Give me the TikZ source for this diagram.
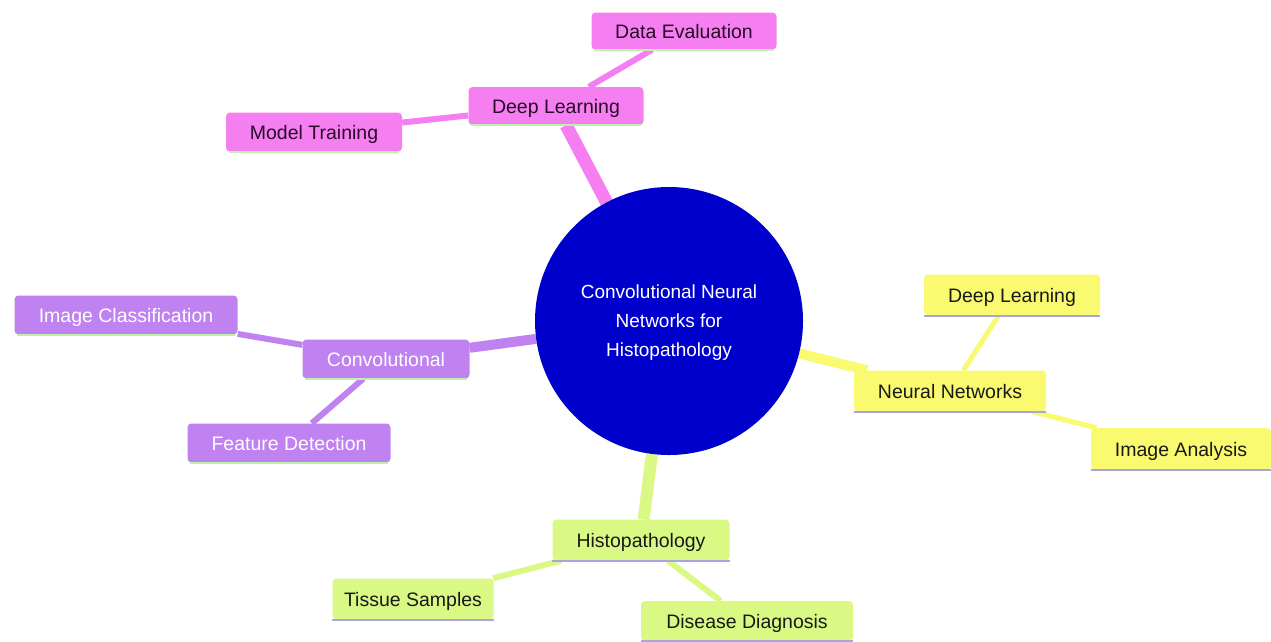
\documentclass[tikz,border=0pt]{standalone}
\usepackage{fontspec}
\setmainfont{Liberation Sans}
\pgfdeclarelayer{background}
\pgfdeclarelayer{paper}
\pgfsetlayers{paper,background,main}
\definecolor{pinkc}{RGB}{245,127,240}
\definecolor{purpc}{RGB}{191,130,240}
\definecolor{yelc}{RGB}{250,250,112}
\definecolor{grnc}{RGB}{218,249,132}
\definecolor{rootc}{RGB}{0,0,204}
\definecolor{ulgreen}{RGB}{190,240,170}
\definecolor{ullav}{RGB}{170,165,225}
\definecolor{pinktxt}{RGB}{40,10,40}
\tikzset{
  x=1pt, y=-1pt,
  box/.style={rectangle, rounded corners=4pt, inner sep=0pt, text height=16pt, text depth=2pt, font=\fontsize{19.5}{23}\selectfont},
  pinkbox/.style={box, fill=pinkc, text=pinktxt},
  purpbox/.style={box, fill=purpc, text=white},
  yelbox/.style={box, fill=yelc, text=black!90},
  grnbox/.style={box, fill=grnc, text=black!90},
  rootnode/.style={circle, fill=rootc, minimum size=268pt, inner sep=0pt},
  roottext/.style={text=white, align=center, inner sep=0pt, font=\fontsize{19}{29}\selectfont},
  mainedge/.style={line width=#1, line cap=butt},
  ul/.style={draw=#1, line width=2.2pt},
}
\begin{document}
\begin{tikzpicture}
\begin{pgfonlayer}{paper}
\fill[white] (0,0) rectangle (1271,641);
\end{pgfonlayer}
\useasboundingbox (0,0) rectangle (1271,641);
\node[rootnode, label={[roottext, yshift=-2pt]center:{Convolutional Neural\\Networks for\\Histopathology}}] (root) at (669,321) {};
% pink branch
\node[pinkbox, minimum width=175, minimum height=38] (dl) at (556,106) {Deep Learning};
\node[pinkbox, minimum width=185, minimum height=37] (de) at (684,31) {Data Evaluation};
\node[pinkbox, minimum width=176, minimum height=39] (mt) at (314,132) {Model Training};
% purple branch
\node[purpbox, minimum width=167, minimum height=39] (cv) at (386,359) {Convolutional};
\node[purpbox, minimum width=223, minimum height=39] (ic) at (126,315) {Image Classification};
\node[purpbox, minimum width=203, minimum height=39] (fd) at (289,443) {Feature Detection};
% yellow branch
\node[yelbox, minimum width=192, minimum height=41] (nn) at (950,391) {Neural Networks};
\node[yelbox, minimum width=176, minimum height=41] (dl2) at (1012,295) {Deep Learning};
\node[yelbox, minimum width=180, minimum height=42] (ia) at (1181,449) {Image Analysis};
% green branch
\node[grnbox, minimum width=177, minimum height=41] (hp) at (641,540) {Histopathology};
\node[grnbox, minimum width=161, minimum height=41] (ts) at (413,599) {Tissue Samples};
\node[grnbox, minimum width=212, minimum height=40] (dd) at (747,621) {Disease Diagnosis};
% underlines
\foreach \n in {dl,de,mt,cv,ic,fd}{
  \draw[ul=ulgreen] ([xshift=3pt]\n.south west) -- ([xshift=-3pt]\n.south east);
}
\foreach \n in {nn,dl2,ia,hp,ts,dd}{
  \draw[ul=ullav] (\n.south west) -- (\n.south east);
}
\begin{pgfonlayer}{background}
\draw[mainedge=13pt, pinkc] (root) -- (dl);
\draw[mainedge=10pt, purpc] (root) -- (cv);
\draw[mainedge=10pt, yelc] (root) -- (nn);
\draw[mainedge=12pt, grnc] (root) -- (hp);
\draw[mainedge=6pt, pinkc] (dl) -- (de);
\draw[mainedge=6pt, pinkc] (dl) -- (mt);
\draw[mainedge=6pt, purpc] (cv) -- (ic);
\draw[mainedge=6pt, purpc] (cv) -- (fd);
\draw[mainedge=5pt, yelc] (nn) -- (dl2);
\draw[mainedge=5pt, yelc] (nn) -- (ia);
\draw[mainedge=6pt, grnc] (hp) -- (ts);
\draw[mainedge=6pt, grnc] (hp) -- (dd);
\end{pgfonlayer}
\end{tikzpicture}
\end{document}
